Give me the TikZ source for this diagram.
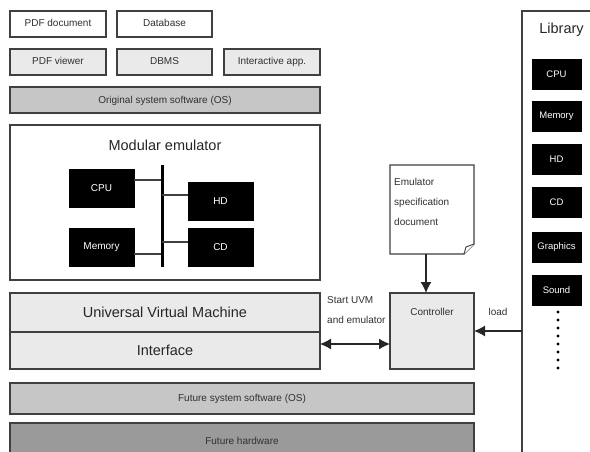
\documentclass[tikz,border=0pt]{standalone}
\usepackage{fontspec}
\setmainfont{Liberation Sans}
\usetikzlibrary{arrows.meta}
\definecolor{edge}{HTML}{404040}
\definecolor{txt}{HTML}{303030}
\definecolor{lightg}{HTML}{EAEAEA}
\definecolor{midg}{HTML}{C6C6C6}
\definecolor{darkg}{HTML}{9A9A9A}
\tikzset{
  box/.style={draw=edge, line width=1.2pt, inner sep=0pt, outer sep=0pt, text=txt,
    font=\fontsize{10}{12}\selectfont, text height=7.2pt, text depth=1.2pt},
  bigbox/.style={box, font=\fontsize{14.5}{17}\selectfont, text=black!85, text height=10.5pt, text depth=1.5pt},
  blk/.style={fill=black, draw=black, inner sep=0pt, outer sep=0pt, text=white,
    font=\fontsize{10}{12}\selectfont, minimum width=65pt, minimum height=38pt},
  libblk/.style={blk, minimum width=49pt, minimum height=30pt, font=\fontsize{9.5}{11}\selectfont},
  big/.style={font=\fontsize{14.5}{17}\selectfont, text=black!85, inner sep=0pt},
  small/.style={font=\fontsize{10}{12}\selectfont, text=txt, inner sep=0pt},
  wire/.style={draw=edge, line width=1.2pt},
  arr/.style={draw=black!85, line width=1.2pt, -{Latex[length=11pt,width=11pt]}},
  darr/.style={draw=black!85, line width=1.2pt, {Latex[length=11pt,width=11pt]}-{Latex[length=11pt,width=11pt]}}
}
\begin{document}
\begin{tikzpicture}[x=1pt,y=-1pt]
\useasboundingbox (0,0) rectangle (590,452);
\clip (0,0) rectangle (590,452);
% top rows
\node[box, fill=white, minimum width=96pt, minimum height=26pt] (pdfdoc) at (58,24) {PDF document};
\node[box, fill=white, minimum width=95pt, minimum height=26pt] (database) at (164.5,24) {Database};
\node[box, fill=lightg, minimum width=96pt, minimum height=26pt] (pdfview) at (58,62) {PDF viewer};
\node[box, fill=lightg, minimum width=95pt, minimum height=26pt] (dbms) at (164.5,62) {DBMS};
\node[box, fill=lightg, minimum width=96pt, minimum height=26pt] (interactive) at (272,62) {Interactive app.};
\node[box, fill=midg, minimum width=310pt, minimum height=26pt] (origos) at (165,100) {Original system software (OS)};
% modular emulator
\node[box, fill=white, minimum width=310pt, minimum height=155pt] (modemu) at (165,202.5) {};
\node[big] (modtitle) at (165,145) {Modular emulator};
\node[blk] (cpu) at (101.5,188) {CPU};
\node[blk] (mem) at (101.5,247) {Memory};
\node[blk] (hd) at (220.5,201) {HD};
\node[blk] (cd) at (220.5,247) {CD};
\node[fill=black, inner sep=0pt, minimum width=3pt, minimum height=102pt] (bus) at (162,216) {};
\draw[wire] ([yshift=8pt]cpu.east) -- ++(27,0);
\draw[wire] ([yshift=-7pt]mem.east) -- ++(27,0);
\draw[wire] ([yshift=6pt]hd.west) -- ++(-26,0);
\draw[wire] ([yshift=5pt]cd.west) -- ++(-26,0);
% UVM and interface
\node[bigbox, fill=lightg, minimum width=310pt, minimum height=39pt] (uvm) at (165,312.5) {Universal Virtual Machine};
\node[bigbox, fill=lightg, minimum width=310pt, minimum height=37pt] (iface) at (165,350.5) {Interface};
% future
\node[box, fill=midg, minimum width=464pt, minimum height=31pt] (futos) at (242,398.5) {Future system software (OS)};
\node[box, fill=darkg, minimum width=464pt, minimum height=37pt] (futhw) at (242,441.5) {Future hardware};
% document
\node[inner sep=0pt, outer sep=0pt, minimum width=84pt, minimum height=89pt] (doc) at (432,209.5) {};
\draw[wire, fill=white] (doc.north west) -- (doc.north east) -- ([yshift=10pt]doc.south east) -- ([xshift=-10pt]doc.south east) -- (doc.south west) -- cycle;
\draw[wire, line width=0.9pt, fill=white] ([xshift=-10pt]doc.south east) -- ([xshift=-8pt,yshift=7pt]doc.south east) -- ([yshift=10pt]doc.south east);
\node[small, anchor=north west, align=left, font=\fontsize{10}{20}\selectfont] (doctxt) at (394,178) {Emulator\\specification\\document};
% controller
\node[box, fill=lightg, minimum width=84pt, minimum height=76pt] (ctrl) at (432,331) {};
\node[small] (ctrltxt) at (432,312) {Controller};
\draw[arr] ([xshift=-6pt]doc.south) -- ([xshift=-6pt]ctrl.north);
\draw[darr] ([yshift=6.5pt]iface.east) -- ([yshift=-13pt]ctrl.west);
\node[small, anchor=west] (start1) at (327,300) {Start UVM};
\node[small, anchor=west] (start2) at (327,320) {and emulator};
% library
\node[box, fill=white, minimum width=80pt, minimum height=460pt] (lib) at (562,241) {};
\node[big] (libtitle) at (561.5,30) {Library};
\node[libblk] (lcpu) at (556.5,74) {CPU};
\node[libblk] (lmem) at (556.5,116) {Memory};
\node[libblk] (lhd) at (556.5,159) {HD};
\node[libblk] (lcd) at (556.5,202) {CD};
\node[libblk] (lgfx) at (556.5,247) {Graphics};
\node[libblk] (lsnd) at (556.5,290) {Sound};
\foreach \i in {0,...,7} \fill[black] (558,312+8*\i) circle (1.6pt);
\draw[arr] ([yshift=-90pt]lib.west) -- (ctrl.east);
\node[small] (loadtxt) at (498,312) {load};
\end{tikzpicture}
\end{document}
